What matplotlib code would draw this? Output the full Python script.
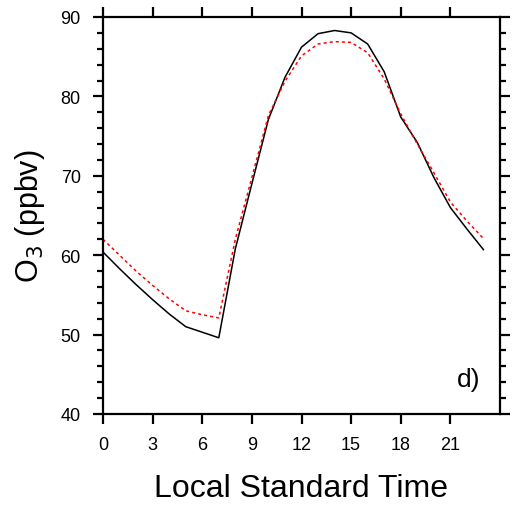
import matplotlib
matplotlib.use("Agg")
import matplotlib.pyplot as plt
from matplotlib.ticker import MultipleLocator

plt.rcParams["font.family"] = ["Liberation Sans", "DejaVu Sans"]

hours = list(range(24))
o3_obs = [60.4, 58.3, 56.3, 54.4, 52.6, 51.0, 50.3, 49.6,
          60.8, 69.0, 77.1, 82.4, 86.2, 87.9, 88.3, 88.0,
          86.6, 83.1, 77.4, 74.2, 69.8, 66.0, 63.3, 60.7]
o3_model = [62.0, 60.0, 58.0, 56.2, 54.5, 53.0, 52.5, 52.1,
            62.0, 69.8, 77.6, 81.9, 85.1, 86.6, 86.9, 86.8,
            85.5, 82.2, 77.8, 74.0, 70.4, 66.7, 64.3, 62.1]
xticks = [0, 3, 6, 9, 12, 15, 18, 21]
panel_label = "d)"

fig = plt.figure(figsize=(5.2, 5.1), dpi=100)
ax = fig.add_axes([103 / 520, 95 / 510, 397 / 520, 397 / 510])

ax.plot(hours, o3_obs, color="black", linewidth=1.1)
ax.plot(hours, o3_model, color="red", linewidth=1.1, linestyle=(0, (2, 2)))

ax.set_xlim(0, 24)
ax.set_ylim(40, 90)
ax.set_xticks(xticks)
ax.yaxis.set_major_locator(MultipleLocator(10))
ax.yaxis.set_minor_locator(MultipleLocator(2))

for side in ax.spines.values():
    side.set_linewidth(1.6)
ax.tick_params(which="both", direction="out", top=True, right=True,
               labeltop=False, labelright=False, width=1.6)
ax.tick_params(which="major", length=7, labelsize=13, pad=9)
ax.tick_params(which="minor", length=4)

ax.set_xlabel("Local Standard Time", fontsize=23, labelpad=14)
ax.set_ylabel("O$_3$ (ppbv)", fontsize=22, labelpad=10)

ax.text(22.1, 44.4, panel_label, fontsize=19, ha="center", va="center")

fig.savefig("out.png", dpi=100)
